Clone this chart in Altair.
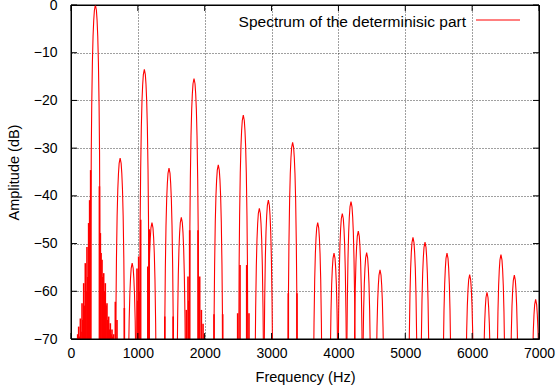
import altair as alt
import pandas as pd

# ---- data ----
peak_hz = [365, 735, 915, 1097, 1211, 1466, 1650, 1840, 2203, 2577, 2817, 2952,
           3315, 3690, 3934, 4058, 4188, 4297, 4422, 4622, 5115, 5295, 5624,
           5963, 6222, 6431, 6631, 6950]
peak_db = [0.0, -32.1, -54.1, -13.5, -45.6, -34.2, -44.5, -15.4, -33.5, -23.1,
           -42.6, -40.9, -28.8, -45.6, -52.0, -43.7, -41.2, -47.4, -51.9, -55.5,
           -48.7, -49.7, -52.0, -56.5, -60.2, -52.3, -56.6, -61.7]

# shape of one spectral lobe around its peak (offset in Hz, level below peak in dB)
lobe_offset_hz = [-70, -66, -62, -55, -45, -35, -25, -15, 0, 15, 25, 35, 45, 55, 62, 66, 70]
lobe_drop_db = [-100, -45, -31, -21, -12, -6.5, -3.2, -1.1, 0, -1.1, -3.2, -6.5, -12, -21, -31, -45, -100]

# narrow spikes (noise) rising from the floor
spike_hz = [100, 115, 125, 140, 150, 165, 175, 190, 200, 214, 225, 239, 250, 264, 272, 279, 287, 294,
            425, 439, 450, 464, 475, 489, 500, 513, 525, 538, 550, 563, 575, 588, 600, 613, 625, 638,
            663, 688, 798, 987, 1000, 1012, 1030, 1042, 1149, 1170, 1403, 1528,
            1725, 1750, 1762, 1775, 1900, 1912, 1925, 1950, 1975, 1990,
            2139, 2269, 2493, 2528, 2628, 2662, 3250, 3380]
spike_db = [-69, -67.4, -69.5, -65.7, -68.5, -62.5, -66, -58.3, -63, -54.1, -60, -50.7, -57, -45.7, -52, -40.9, -48, -34.6,
            -38, -47.8, -52, -53.4, -57, -56.2, -60, -58.3, -63, -62.5, -66, -65.3, -68, -66.7, -69, -68, -69.5, -69,
            -62.2, -66, -63.5, -55.2, -62, -52.7, -60, -45, -54.8, -47, -65.3, -65.3,
            -63.9, -56.9, -62, -47.2, -47.2, -60, -56.9, -63.9, -66.8, -69,
            -64.8, -64.8, -64.6, -54.5, -54.5, -64.6, -60.4, -60.4]

x_ticks = [0, 1000, 2000, 3000, 4000, 5000, 6000, 7000]
y_ticks = [0, -10, -20, -30, -40, -50, -60, -70]
legend_label = "Spectrum of the determinisic part"

W, H = 468, 334
RED = "#ff0000"
FONT = "Liberation Sans"

# ---- build tables ----
rows = []
for i, (f0, a0) in enumerate(zip(peak_hz, peak_db)):
    for off, drop in zip(lobe_offset_hz, lobe_drop_db):
        rows.append({"freq": f0 + off, "db": a0 + drop, "lobe": i})
lobes = pd.DataFrame(rows)
spikes = pd.DataFrame({"freq": spike_hz, "db": spike_db})
xt = pd.DataFrame({"freq": x_ticks})
yt = pd.DataFrame({"db": y_ticks})
leg_df = pd.DataFrame({"label": [legend_label]})

xscale = alt.Scale(domain=[0, 7000], nice=False, zero=False)
yscale = alt.Scale(domain=[-70, 0], nice=False, zero=False)

x_axis = alt.Axis(values=x_ticks, format="d", labelPadding=7,
                  titlePadding=10, labelFlush=False, labelOverlap=False)
y_axis = alt.Axis(values=y_ticks, format="d", labelPadding=14,
                  titlePadding=12, labelFlush=False, labelOverlap=False)


def X():
    return alt.X("freq:Q", scale=xscale, axis=x_axis, title="Frequency (Hz)")


def Y():
    return alt.Y("db:Q", scale=yscale, axis=y_axis, title="Amplitude (dB)")


line = alt.Chart(lobes).mark_line(color=RED, strokeWidth=1.1, clip=True).encode(
    x=X(), y=Y(), detail="lobe:N",
)

spk = alt.Chart(spikes).mark_rule(color=RED, strokeWidth=1.6, clip=True).encode(
    x=X(), y=Y(), y2=alt.datum(-70),
)

tick_style = dict(color="black", strokeWidth=1)
xb = alt.Chart(xt).mark_rule(**tick_style).encode(x=X(), y=alt.value(H), y2=alt.value(H - 6))
xtp = alt.Chart(xt).mark_rule(**tick_style).encode(x=X(), y=alt.value(0), y2=alt.value(6))
yl = alt.Chart(yt).mark_rule(**tick_style).encode(y=Y(), x=alt.value(0), x2=alt.value(6))
yr = alt.Chart(yt).mark_rule(**tick_style).encode(y=Y(), x=alt.value(W), x2=alt.value(W - 6))

frame = alt.Chart(leg_df).mark_rect(fill=None, stroke="black", strokeWidth=1).encode(
    x=alt.value(0), x2=alt.value(W), y=alt.value(0), y2=alt.value(H))

leg_text = alt.Chart(leg_df).mark_text(align="right", baseline="alphabetic", font=FONT,
                                       fontSize=15.5, color="black").encode(
    x=alt.value(395), y=alt.value(21.5), text="label:N")
leg_line = alt.Chart(leg_df).mark_rule(color=RED, strokeWidth=1).encode(
    x=alt.value(405), x2=alt.value(449), y=alt.value(15))

chart = alt.layer(line, spk, xb, xtp, yl, yr, frame, leg_text, leg_line).properties(
    width=W, height=H,
    background="white",
    autosize=alt.AutoSizeParams(type="none"),
    padding={"left": 71, "top": 5, "right": 18, "bottom": 52},
).configure_view(
    stroke="black", strokeWidth=1
).configure_axis(
    grid=True, gridColor="black", gridDash=[1, 2], gridOpacity=0.75, gridWidth=1,
    domain=False, ticks=False,
    labelFont=FONT, labelFontSize=14, labelColor="black",
    titleFont=FONT, titleFontSize=14.5, titleFontWeight="normal", titleColor="black",
)

chart.save("out.html", embed_options={"renderer": "svg", "actions": False})
